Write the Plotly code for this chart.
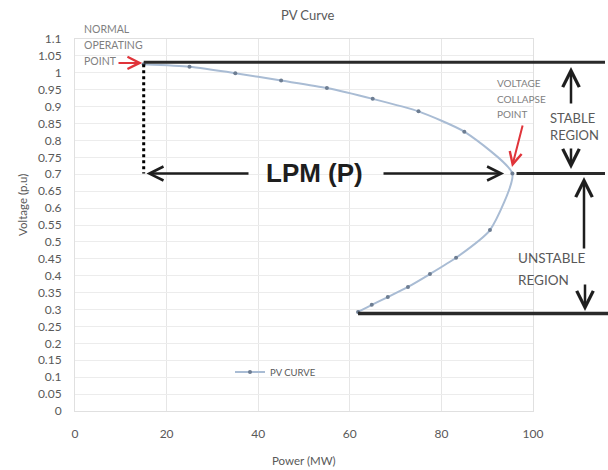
import plotly.graph_objects as go

# ---------------- data ----------------
power_mw = [15, 25, 35, 45, 55, 65, 75, 85, 95.5, 90.6, 83.2, 77.5, 72.7, 68.3, 64.8, 61.8]
voltage_pu = [1.025, 1.018, 0.999, 0.977, 0.955, 0.923, 0.886, 0.826, 0.702,
              0.535, 0.453, 0.405, 0.367, 0.337, 0.314, 0.293]

x_tick_vals = [0, 20, 40, 60, 80, 100]
x_tick_text = ["0", "20", "40", "60", "80", "100"]
y_tick_vals = [0, 0.05, 0.1, 0.15, 0.2, 0.25, 0.3, 0.35, 0.4, 0.45, 0.5, 0.55,
               0.6, 0.65, 0.7, 0.75, 0.8, 0.85, 0.9, 0.95, 1.0, 1.05, 1.1]
y_tick_text = ["0", "0.05", "0.1", "0.15", "0.2", "0.25", "0.3", "0.35", "0.4", "0.45",
               "0.5", "0.55", "0.6", "0.65", "0.7", "0.75", "0.8", "0.85", "0.9", "0.95",
               "1", "1.05", "1.1"]

# ---------------- layout geometry ----------------
W, H = 608, 470
L, R, T, B = 75, 533, 39, 411          # plot area in pixels
X_MAX, Y_MAX = 100, 1.1


def px(xpix):
    return (xpix - L) / (R - L)


def py(ypix):
    return (B - ypix) / (B - T)


def to_xpix(xp):
    return L + xp * (R - L)


def to_ypix(yp):
    return B - yp * (B - T)


FONT = "Lato, 'Liberation Sans', Arial, sans-serif"
GREY = "#595959"
LIGHT = "#7f7f7f"
BLACK = "#1e1e1e"
RED = "#e0343a"

# key points taken from the data
P0, V0 = power_mw[0], voltage_pu[0]
i_nose = max(range(len(power_mw)), key=lambda i: power_mw[i])
Pn, Vn = power_mw[i_nose], voltage_pu[i_nose]
Pe, Ve = power_mw[-1], voltage_pu[-1]

fig = go.Figure()
fig.add_trace(go.Scatter(
    x=power_mw, y=voltage_pu, mode="lines+markers", name="PV CURVE",
    line=dict(color="#a9bcd4", width=2, shape="spline", smoothing=0.55),
    marker=dict(size=4, color="#6d7d92"),
))

shapes = [
    # top line (normal operating level)
    dict(type="line", xref="paper", yref="paper", x0=P0 / X_MAX, x1=px(605),
         y0=V0 / Y_MAX + 0.006, y1=V0 / Y_MAX + 0.006, line=dict(color="#2a2a2a", width=3)),
    # dotted drop line
    dict(type="line", xref="paper", yref="paper", x0=P0 / X_MAX, x1=P0 / X_MAX,
         y0=V0 / Y_MAX, y1=Vn / Y_MAX, line=dict(color="black", width=3, dash="dot")),
    # collapse level line right of the nose
    dict(type="line", xref="paper", yref="paper", x0=(Pn + 0.9) / X_MAX, x1=px(605),
         y0=Vn / Y_MAX, y1=Vn / Y_MAX, line=dict(color="#2a2a2a", width=3)),
    # bottom line
    dict(type="line", xref="paper", yref="paper", x0=Pe / X_MAX, x1=px(608),
         y0=Ve / Y_MAX - 0.004, y1=Ve / Y_MAX - 0.004, line=dict(color="#2a2a2a", width=3.5)),
]

ann = []


def arrow(hx, hy, tx, ty, color=BLACK, width=2.5, size=1.1):
    """head (hx, hy) and tail (tx, ty) given in paper coordinates"""
    ann.append(dict(xref="paper", yref="paper", axref="pixel", ayref="pixel",
                    x=hx, y=hy,
                    ax=to_xpix(tx) - to_xpix(hx), ay=to_ypix(ty) - to_ypix(hy),
                    text="", showarrow=True,
                    arrowhead=5, arrowsize=size, arrowwidth=width, arrowcolor=color,
                    standoff=0, startstandoff=0))


def label(x, y, text, size, color=GREY, xanchor="left", bold=False, family=FONT):
    t = f"<b>{text}</b>" if bold else text
    ann.append(dict(xref="paper", yref="paper", x=x, y=y, text=t, showarrow=False,
                    xanchor=xanchor, yanchor="middle",
                    font=dict(family=family, size=size, color=color)))


# LPM arrows and text
arrow((P0 + 0.6) / X_MAX, Vn / Y_MAX, px(250), Vn / Y_MAX)
arrow((Pn - 1.8) / X_MAX, Vn / Y_MAX, px(382), Vn / Y_MAX)
label(px(314), py(173), "LPM (P)", 26, color=BLACK, xanchor="center", bold=True,
      family="'Liberation Sans', Arial, sans-serif")

# red pointer arrows
arrow((P0 - 0.3) / X_MAX, V0 / Y_MAX + 0.004, px(117), V0 / Y_MAX + 0.004, color=RED, width=2, size=1.2)
arrow(px(512), py(167), px(523), py(124), color=RED, width=2, size=1.2)

# region arrows
arrow(px(571), py(67), px(571), py(105), width=2.5, size=1.3)
arrow(px(571), py(169), px(571), py(147), width=2.5, size=1.3)
arrow(px(584), py(177), px(584), py(250), width=2.5, size=1.3)
arrow(px(585), py(311), px(585), py(283), width=2.5, size=1.3)

# annotation texts
label(px(82), py(29), "NORMAL", 10.5, color=LIGHT)
label(px(82), py(45), "OPERATING", 10.5, color=LIGHT)
label(px(82), py(61), "POINT", 10.5, color=LIGHT)
label(px(495), py(83), "VOLTAGE", 10, color=LIGHT)
label(px(495), py(99), "COLLAPSE", 10, color=LIGHT)
label(px(495), py(114), "POINT", 10, color=LIGHT)
label(px(548), py(118), "STABLE", 13)
label(px(548), py(135), "REGION", 13)
label(px(516), py(258), "UNSTABLE", 13.5)
label(px(516), py(280), "REGION", 13.5)

# title and axis titles
label(0.5066, py(15), "PV Curve", 13, xanchor="center")
label(0.5, py(461), "Power (MW)", 11.5, xanchor="center")
ann.append(dict(xref="paper", yref="paper", x=px(22), y=py(205), text="Voltage (p.u)",
                showarrow=False, textangle=-90, xanchor="center", yanchor="middle",
                font=dict(family=FONT, size=11.5, color=GREY)))

fig.update_layout(
    width=W, height=H,
    margin=dict(l=L, r=W - R, t=T, b=H - B, pad=0),
    paper_bgcolor="white", plot_bgcolor="white",
    font=dict(family=FONT, color=GREY, size=12),
    shapes=shapes, annotations=ann,
    showlegend=True,
    legend=dict(x=px(230), y=py(372), xanchor="left", yanchor="middle",
                bgcolor="rgba(0,0,0,0)", font=dict(size=9.5, color=GREY),
                itemwidth=30),
)
fig.update_xaxes(range=[0, X_MAX], tickvals=x_tick_vals, ticktext=x_tick_text,
                 showgrid=True, gridcolor="#e6e6e6", gridwidth=1, zeroline=False,
                 showline=True, linecolor="#e0e0e0", mirror=True,
                 ticks="outside", ticklen=12, tickcolor="rgba(0,0,0,0)",
                 tickfont=dict(size=12, color=GREY))
fig.update_yaxes(range=[0, Y_MAX], tickvals=y_tick_vals, ticktext=y_tick_text,
                 showgrid=True, gridcolor="#ececec", gridwidth=1, zeroline=False,
                 showline=True, linecolor="#e0e0e0", mirror=True,
                 ticks="outside", ticklen=10, tickcolor="rgba(0,0,0,0)",
                 tickfont=dict(size=12, color=GREY))

fig.write_html("out.html")
